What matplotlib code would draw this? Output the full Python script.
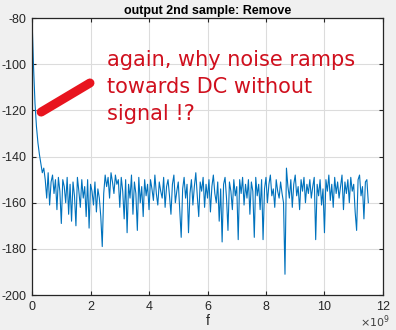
import matplotlib
matplotlib.use("Agg")
import matplotlib.pyplot as plt
import numpy as np
from matplotlib.ticker import FuncFormatter

plt.rcParams['axes.unicode_minus'] = False
plt.rcParams['font.family'] = ['Liberation Sans', 'DejaVu Sans']

# frequency grid (Hz), 0 .. 11.5e9 in 0.05e9 steps
f_start = 0.0
f_stop = 11.5e9
n_points = 231

# spectrum level (dB)
level = [
    -81, -101, -117, -127, -134, -139, -143, -147, -145, -150,
    -158, -147, -161, -151, -148, -156, -150, -163, -149, -155,
    -169, -150, -153, -160, -149, -165, -152, -168, -151, -157,
    -170, -149, -155, -162, -150, -158, -153, -166, -150, -171,
    -152, -155, -161, -151, -164, -154, -158, -166, -179, -156,
    -148, -153, -149, -158, -147, -151, -156, -148, -152, -150,
    -162, -149, -155, -167, -150, -173, -152, -158, -148, -165,
    -151, -156, -172, -149, -160, -153, -166, -150, -157, -152,
    -163, -150, -154, -159, -148, -156, -161, -151, -155, -158,
    -149, -162, -153, -150, -157, -165, -152, -148, -160, -155,
    -151, -163, -175, -154, -149, -158, -152, -173, -156, -150,
    -161, -153, -147, -157, -166, -151, -155, -149, -162, -152,
    -158, -150, -164, -153, -148, -156, -160, -151, -168, -154,
    -177, -152, -149, -158, -172, -151, -155, -163, -150, -157,
    -153, -176, -150, -156, -149, -161, -152, -158, -150, -165,
    -151, -155, -175, -149, -157, -152, -163, -150, -176, -154,
    -149, -160, -152, -148, -157, -154, -162, -150, -155, -158,
    -151, -156, -160, -191, -145, -153, -158, -150, -162, -152,
    -148, -157, -153, -163, -150, -155, -149, -160, -152, -156,
    -150, -158, -153, -149, -176, -152, -157, -150, -161, -154,
    -173, -150, -155, -148, -159, -152, -162, -149, -156, -151,
    -158, -153, -148, -163, -151, -156, -150, -160, -149, -155,
    -152, -164, -172, -150, -148, -157, -153, -167, -151, -150,
    -160,
]

# hand-drawn red stroke (data coords)
stroke_f = [0.31e9, 1.98e9]
stroke_db = [-120.7, -108.1]

note = "again, why noise ramps\ntowards DC without\nsignal !?"

f = np.linspace(f_start, f_stop, n_points)

fig = plt.figure(figsize=(3.96, 3.30), dpi=100, facecolor="#f0f0f0")
ax = fig.add_axes([0.081, 0.106, 0.886, 0.839])
ax.plot(f, level, color="#0072BD", lw=0.8)
ax.plot(stroke_f, stroke_db, color="#e8141e", lw=6.5, solid_capstyle="round")

ax.set_xlim(0, 12e9)
ax.set_ylim(-200, -80)
ax.set_xticks(np.arange(0, 13e9, 2e9))
ax.set_yticks(np.arange(-200, -79, 20))
ax.xaxis.set_major_formatter(FuncFormatter(lambda v, p: f"{v / 1e9:g}"))

ax.grid(True, color="#dcdcdc", lw=0.8)
ax.set_axisbelow(True)
ax.tick_params(direction="in", top=True, right=True, length=3,
               labelsize=9, colors="#262626", pad=4)
for s in ax.spines.values():
    s.set_color("#262626")
    s.set_linewidth(0.9)

ax.set_title("output 2nd sample: Remove", fontsize=9, fontweight="bold", pad=3)
ax.set_xlabel("f", fontsize=10, labelpad=1, color="#262626")
fig.text(0.985, 0.0, r"$\times 10^9$", ha="right", va="bottom",
         fontsize=8, color="#404040")

ax.text(0.213, 0.885, note, transform=ax.transAxes, color="#d0101e",
        fontsize=15, va="top", ha="left", linespacing=1.45,
        family="DejaVu Sans")

fig.savefig("out.png", dpi=100, facecolor=fig.get_facecolor())
